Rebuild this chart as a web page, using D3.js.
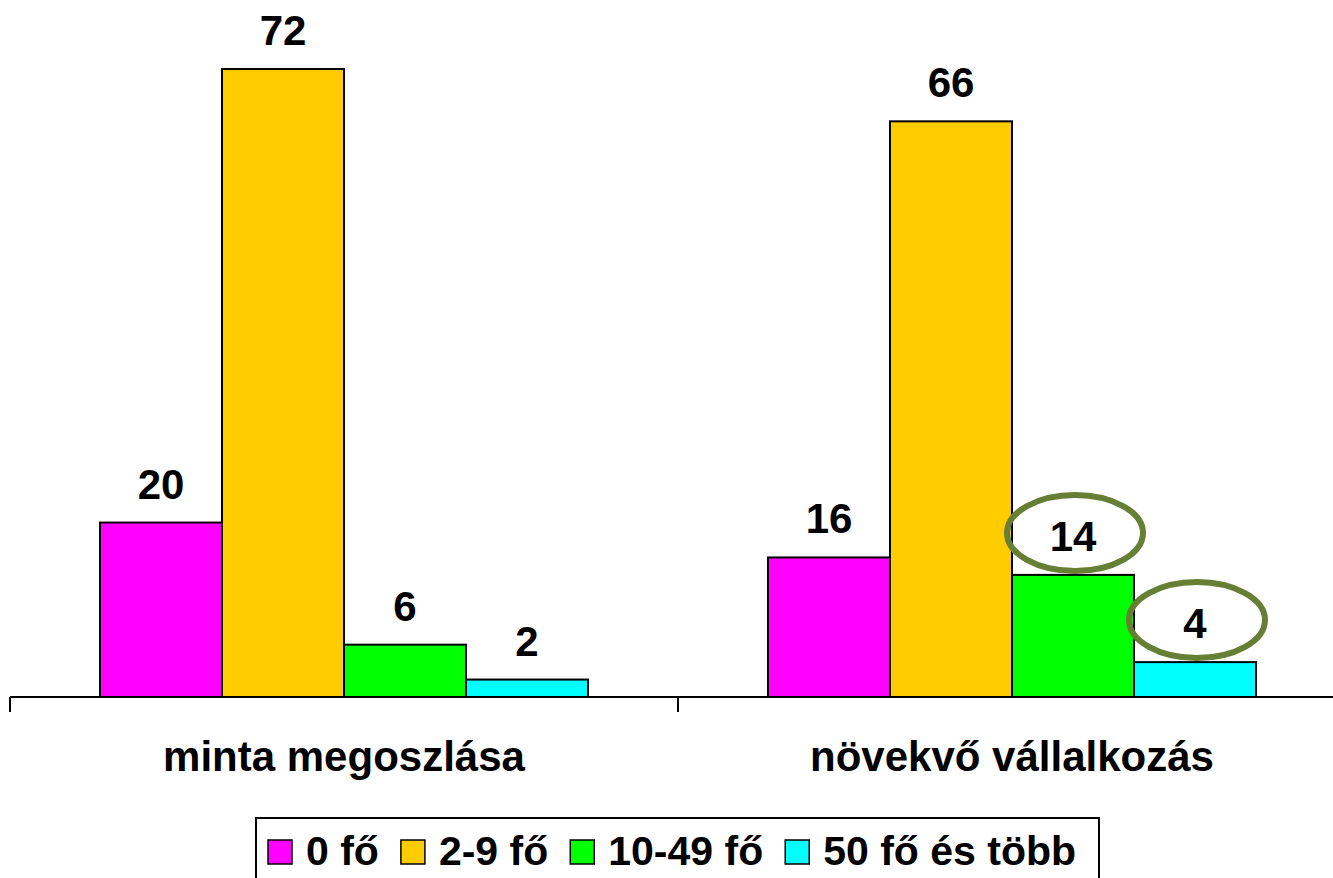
<!DOCTYPE html>
<html>
<head>
<meta charset="utf-8">
<script src="https://cdn.jsdelivr.net/npm/d3@7"></script>
<style>
  html, body { margin: 0; padding: 0; background: #fff; }
  svg { display: block; font-family: "Liberation Sans", Arial, sans-serif; font-weight: bold; }
</style>
</head>
<body>
<div id="chart"></div>
<script>
// ── Data ──
const categories = ['minta megoszlása', 'növekvő vállalkozás'];
const seriesNames = ['0 fő', '2-9 fő', '10-49 fő', '50 fő és több'];
const seriesColors = ['#FF00FF', '#FFCC00', '#00FF00', '#00FFFF'];
const values = [
  [20, 72, 6, 2],
  [16, 66, 14, 4]
];
// labels circled in the second group (category index, series index)
const highlighted = [[1, 2], [1, 3]];

const W = 1333, H = 878;
const svg = d3.select('#chart').append('svg').attr('width', W).attr('height', H);

const baseY = 697;
const x0 = d3.scaleBand().domain(categories).range([10, 1346]).paddingInner(0).paddingOuter(0);
const x1 = d3.scaleBand().domain(seriesNames).range([90, x0.bandwidth() - 90]).padding(0);
const y = d3.scaleLinear().domain([0, 72]).range([baseY, 69]);

// ── Bars ──
const groups = svg.append('g').selectAll('g').data(categories).join('g')
  .attr('transform', d => `translate(${x0(d)},0)`);

groups.each(function(cat, ci) {
  const g = d3.select(this);
  seriesNames.forEach((s, si) => {
    const v = values[ci][si];
    g.append('rect')
      .attr('x', x1(s)).attr('y', y(v))
      .attr('width', x1.bandwidth()).attr('height', baseY - y(v))
      .attr('fill', seriesColors[si]).attr('stroke', '#000').attr('stroke-width', 2);
    g.append('text')
      .attr('x', x1(s) + x1.bandwidth() / 2).attr('y', y(v) - 24)
      .attr('text-anchor', 'middle').attr('font-size', 42).attr('fill', '#000')
      .text(v);
  });
});

// ── Highlight ellipses ──
highlighted.forEach(([ci, si]) => {
  const cx = x0(categories[ci]) + x1(seriesNames[si]) + x1.bandwidth() / 2;
  const cy = y(values[ci][si]) - 40;
  svg.append('ellipse')
    .attr('cx', cx + 2).attr('cy', cy - 2).attr('rx', 68).attr('ry', 38)
    .attr('fill', 'none').attr('stroke', '#667F35').attr('stroke-width', 6);
});

// ── Axis ──
const axis = svg.append('g');
axis.append('line').attr('x1', 10).attr('x2', W).attr('y1', baseY).attr('y2', baseY)
  .attr('stroke', '#000').attr('stroke-width', 2);
const tickXs = categories.map(c => x0(c)).concat([x0.range()[1]]);
axis.selectAll('line.tick').data(tickXs).join('line').attr('class', 'tick')
  .attr('x1', d => d).attr('x2', d => d).attr('y1', baseY).attr('y2', baseY + 15)
  .attr('stroke', '#000').attr('stroke-width', 2);
axis.selectAll('text').data(categories).join('text')
  .attr('x', d => x0(d) + x0.bandwidth() / 2).attr('y', 771)
  .attr('text-anchor', 'middle').attr('font-size', 42).attr('fill', '#000')
  .text(d => d);

// ── Legend ──
const legend = svg.append('g');
legend.append('rect').attr('x', 256).attr('y', 818).attr('width', 843).attr('height', 80)
  .attr('fill', '#fff').attr('stroke', '#000').attr('stroke-width', 2);
let lx = 268;
seriesNames.forEach((s, i) => {
  legend.append('rect').attr('x', lx).attr('y', 840).attr('width', 24).attr('height', 24)
    .attr('fill', seriesColors[i]).attr('stroke', '#000').attr('stroke-width', 1.5);
  const t = legend.append('text').attr('x', lx + 38).attr('y', 865)
    .attr('font-size', 41).attr('fill', '#000').text(s);
  lx += 38 + t.node().getComputedTextLength() + 22;
});
</script>
</body>
</html>
